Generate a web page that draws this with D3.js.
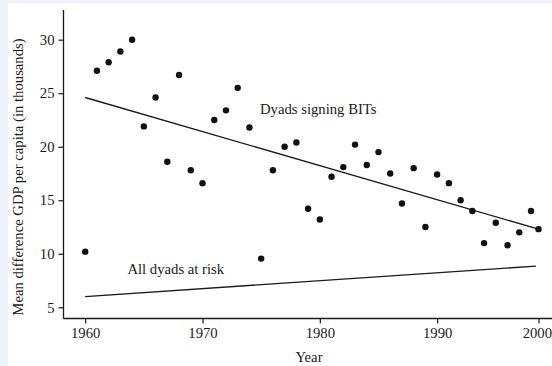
<!DOCTYPE html>
<html>
<head>
<meta charset="utf-8">
<script src="https://cdn.jsdelivr.net/npm/d3@7"></script>
<style>
  html, body { margin: 0; padding: 0; background: #edf2fb; }
  svg { display: block; }
  text { font-family: "Liberation Serif", "Times New Roman", serif; fill: #1a1a1a; }
</style>
</head>
<body>
<script>
let years = [1960, 1961, 1962, 1963, 1964, 1965, 1966, 1967, 1968, 1969,
  1970, 1971, 1972, 1973, 1974, 1975, 1976, 1977, 1978, 1979,
  1980, 1981, 1982, 1983, 1984, 1985, 1986, 1987, 1988, 1989,
  1990, 1991, 1992, 1993, 1994, 1995, 1996, 1997, 1998, 2000];
let gdpDiff = [10.2, 27.1, 27.9, 28.9, 30.0, 21.9, 24.6, 18.6, 26.7, 17.8,
  16.6, 22.5, 23.4, 25.5, 21.8, 9.55, 17.8, 20.0, 20.4, 14.2,
  13.2, 17.2, 18.1, 20.2, 18.3, 19.5, 17.5, 14.7, 18.0, 12.5,
  17.4, 16.6, 15.0, 14.0, 11.0, 12.9, 10.8, 12.0, 14.0, 12.3];
let bitLine = [[1960, 24.6], [2000, 12.3]];
let riskLine = [[1960, 6.0], [1999.3, 8.85]];
let xTicks = [1960, 1970, 1980, 1990, 2000];
let yTicks = [5, 10, 15, 20, 25, 30];

function draw() {
  "use strict";
  let width = 552, height = 366;
  let box = { left: 63.5, top: 10, bottom: 318.5 };
  let fontSize = "14.7px";

  let svg = d3.select("body")
    .append("svg")
    .attr("width", width)
    .attr("height", height);

  svg.append("rect")
    .attr("x", 8)
    .attr("y", 3)
    .attr("width", width - 8)
    .attr("height", height - 3)
    .attr("fill", "#ffffff");

  // the picture squeezes its last two years, so the scale bends at 1998
  let x = d3.scaleLinear()
    .domain([1960, 1998, 2000])
    .range([85.2, 531, 538.5]);
  let y = d3.scaleLinear()
    .domain([5, 30])
    .range([307.3, 39.7]);

  let xAxis = svg.append("g")
    .attr("transform", "translate(0," + box.bottom + ")")
    .call(d3.axisBottom(x).tickValues(xTicks).tickFormat(d3.format("d")).tickSize(5).tickPadding(4));
  let yAxis = svg.append("g")
    .attr("transform", "translate(" + box.left + ",0)")
    .call(d3.axisLeft(y).tickValues(yTicks).tickSize(5).tickPadding(4));

  [xAxis, yAxis].forEach(function (g) {
    g.select(".domain").remove();
    g.selectAll("line").attr("stroke", "#1a1a1a").attr("stroke-width", 1.2);
    g.selectAll("text").attr("font-size", fontSize).attr("fill", "#1a1a1a")
      .style("font-family", "Liberation Serif");
  });

  // last year label sits against the right edge, as in the picture
  xAxis.selectAll(".tick text")
    .filter(function (d) { return d == 2000; })
    .attr("text-anchor", "end")
    .attr("x", width - 0.5 - x(2000));

  svg.append("line")
    .attr("x1", box.left).attr("x2", box.left)
    .attr("y1", box.top).attr("y2", box.bottom)
    .attr("stroke", "#1a1a1a").attr("stroke-width", 1.3);
  svg.append("line")
    .attr("x1", box.left).attr("x2", width)
    .attr("y1", box.bottom).attr("y2", box.bottom)
    .attr("stroke", "#1a1a1a").attr("stroke-width", 1.3);

  let line = d3.line()
    .x(function (d) { return x(d[0]); })
    .y(function (d) { return y(d[1]); });

  svg.append("path")
    .datum(bitLine)
    .attr("d", line)
    .attr("fill", "none")
    .attr("stroke", "#1a1a1a")
    .attr("stroke-width", 1.4);
  svg.append("path")
    .datum(riskLine)
    .attr("d", line)
    .attr("fill", "none")
    .attr("stroke", "#1a1a1a")
    .attr("stroke-width", 1.4);

  svg.selectAll("circle.pt")
    .data(years)
    .enter()
    .append("circle")
    .attr("class", "pt")
    .attr("cx", function (d) { return x(d); })
    .attr("cy", function (d, i) { return y(gdpDiff[i]); })
    .attr("r", 3.2)
    .attr("fill", "#111111");

  svg.append("text")
    .attr("x", x(1974.9))
    .attr("y", y(23.05))
    .attr("font-size", fontSize)
    .text("Dyads signing BITs");
  svg.append("text")
    .attr("x", x(1963.6))
    .attr("y", y(8.1))
    .attr("font-size", fontSize)
    .text("All dyads at risk");

  svg.append("text")
    .attr("x", 309)
    .attr("y", 362)
    .attr("text-anchor", "middle")
    .attr("font-size", fontSize)
    .text("Year");
  svg.append("text")
    .attr("transform", "translate(23,177) rotate(-90)")
    .attr("text-anchor", "middle")
    .attr("font-size", fontSize)
    .text("Mean difference GDP per capita (in thousands)");
}

draw();
</script>
</body>
</html>
